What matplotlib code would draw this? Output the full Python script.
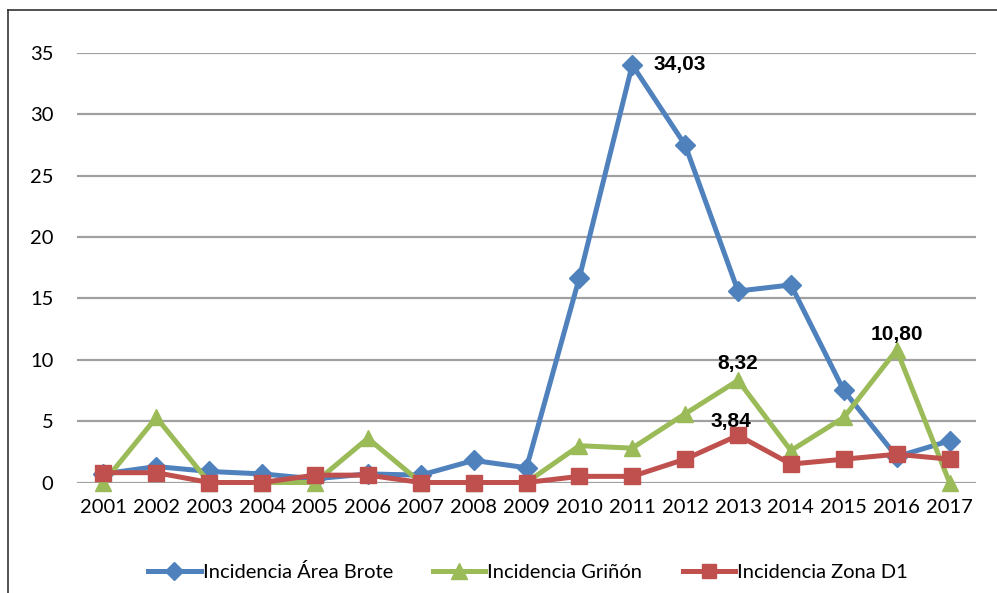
import matplotlib
matplotlib.use("Agg")
import matplotlib.pyplot as plt
from matplotlib.lines import Line2D

years = ["2001", "2002", "2003", "2004", "2005", "2006", "2007", "2008", "2009",
         "2010", "2011", "2012", "2013", "2014", "2015", "2016", "2017"]
area_brote = [0.7, 1.3, 0.9, 0.7, 0.3, 0.7, 0.6, 1.8, 1.2,
              16.7, 34.03, 27.5, 15.6, 16.1, 7.5, 2.1, 3.4]
grinon = [0.0, 5.3, 0.0, 0.0, 0.0, 3.6, 0.0, 0.0, 0.0,
          3.0, 2.8, 5.6, 8.32, 2.6, 5.3, 10.80, 0.0]
zona_d1 = [0.8, 0.8, 0.0, 0.0, 0.6, 0.6, 0.0, 0.0, 0.0,
           0.5, 0.5, 1.9, 3.84, 1.5, 1.9, 2.3, 1.9]
labels = ["Incidencia Área Brote", "Incidencia Griñón", "Incidencia Zona D1"]
y_ticks = [0, 5, 10, 15, 20, 25, 30, 35]

BLUE = "#4F81BD"
GREEN = "#9BBB59"
RED = "#C0504D"
FONT = ["Lato", "DejaVu Sans"]

plt.rcParams["font.family"] = FONT

fig = plt.figure(figsize=(9.97, 5.93), dpi=100)
ax = fig.add_axes([77 / 997, 1 - 482.5 / 593, (976 - 77) / 997, (482.5 - 53) / 593])

x = list(range(len(years)))
ax.plot(x, area_brote, color=BLUE, lw=3.6, marker="D", ms=10, label=labels[0],
        zorder=3, clip_on=False)
ax.plot(x, grinon, color=GREEN, lw=3.6, marker="^", ms=12, label=labels[1],
        zorder=4, clip_on=False)
ax.plot(x, zona_d1, color=RED, lw=3.6, marker="s", ms=11, label=labels[2],
        zorder=5, clip_on=False)

ax.set_xlim(-0.5, len(years) - 0.5)
ax.set_ylim(0, 35)
ax.set_yticks(y_ticks)
ax.set_xticks(x)
ax.set_xticklabels(years)
ax.tick_params(axis="both", length=0, labelsize=14.5, colors="black")
ax.tick_params(axis="y", pad=17)
ax.tick_params(axis="x", pad=12)
ax.yaxis.grid(True, color="#a0a0a0", lw=1.6)
ax.set_axisbelow(True)
for s in ax.spines.values():
    s.set_visible(False)

# data labels
lab_kw = dict(fontsize=15, weight="bold", color="black", fontfamily="Liberation Sans")
ax.annotate("34,03", (10, area_brote[10]), xytext=(15, 0), textcoords="offset points",
            ha="left", va="center", **lab_kw)
ax.annotate("8,32", (12, grinon[12]), xytext=(0, 5), textcoords="offset points",
            ha="center", va="bottom", **lab_kw)
ax.annotate("3,84", (12, zona_d1[12]), xytext=(-5, 3), textcoords="offset points",
            ha="center", va="bottom", **lab_kw)
ax.annotate("10,80", (15, grinon[15]), xytext=(0, 4), textcoords="offset points",
            ha="center", va="bottom", **lab_kw)

# legend
handles = [Line2D([], [], color=c, lw=3.6, marker=m, ms=s)
           for c, m, s in [(BLUE, "D", 9), (GREEN, "^", 11), (RED, "s", 10)]]
fig.legend(handles, labels, loc="center", bbox_to_anchor=(528 / 997, 1 - 572 / 593),
           ncol=3, frameon=False, fontsize=14.5, handlelength=2.6, handletextpad=0.1,
           columnspacing=2.0)

# chart border (left and top edges visible)
fig.add_artist(Line2D([8 / 997, 8 / 997], [0, 1 - 10 / 593], color="#333333", lw=1.2,
                      transform=fig.transFigure))
fig.add_artist(Line2D([8 / 997, 1], [1 - 10 / 593, 1 - 10 / 593], color="#333333", lw=1.2,
                      transform=fig.transFigure))

fig.savefig("out.png", dpi=100, facecolor="white")
